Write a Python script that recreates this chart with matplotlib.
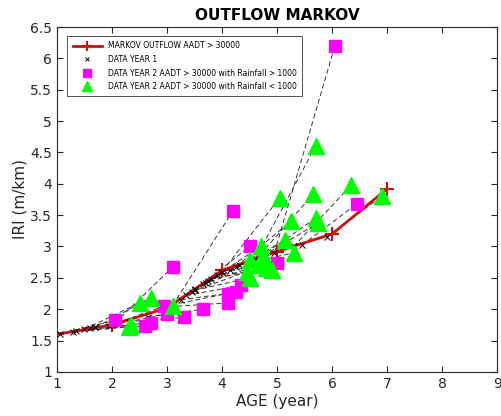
"""Markov outflow IRI prediction vs. observed data pairs."""

import matplotlib
matplotlib.use("Agg")
import matplotlib.pyplot as plt

# Markov prediction (age in years, IRI in m/km)
markov_age = [1, 2, 3, 4, 5, 6, 7]
markov_iri = [1.60, 1.75, 2.02, 2.62, 2.92, 3.20, 3.92]

# Data year 2, rainfall > 1000 (squares) and matching year 1 readings
sq_age2 = [6.05, 4.20, 3.10, 6.45, 4.50, 5.00, 2.05, 2.60, 2.70, 2.95, 3.00, 3.30, 3.65, 4.10, 4.10, 4.25, 4.35]
sq_iri2 = [6.20, 3.57, 2.67, 3.68, 3.00, 2.73, 1.82, 1.73, 1.78, 2.05, 1.92, 1.87, 2.00, 2.25, 2.10, 2.27, 2.38]
sq_age1 = [4.95, 3.10, 2.05, 5.45, 3.50, 4.00, 1.05, 1.60, 1.70, 1.95, 2.00, 2.30, 2.65, 3.10, 3.05, 3.25, 3.35]
sq_iri1 = [2.90, 2.06, 1.78, 3.02, 2.30, 2.60, 1.61, 1.70, 1.71, 1.74, 1.75, 1.80, 1.88, 2.07, 2.04, 2.15, 2.22]

# Data year 2, rainfall < 1000 (triangles) and matching year 1 readings
tr_age2 = [5.70, 6.35, 5.65, 5.05, 6.90, 5.25, 5.70, 5.75, 5.15, 5.30, 4.70, 4.75, 4.50, 4.45, 4.50,
           4.80, 4.90, 4.65, 2.50, 2.70, 3.10, 2.35, 2.30]
tr_iri2 = [4.60, 3.98, 3.83, 3.78, 3.80, 3.40, 3.45, 3.38, 3.10, 2.90, 3.00, 2.85, 2.78, 2.60, 2.50,
           2.65, 2.62, 2.70, 2.10, 2.18, 2.05, 1.75, 1.72]
tr_age1 = [4.60, 5.30, 4.60, 4.00, 5.90, 4.25, 4.70, 4.75, 4.15, 4.30, 3.70, 3.75, 3.50, 3.45, 3.50,
           3.80, 3.90, 3.65, 1.50, 1.70, 2.10, 1.35, 1.30]
tr_iri1 = [2.80, 3.00, 2.78, 2.60, 3.15, 2.68, 2.84, 2.85, 2.63, 2.70, 2.42, 2.45, 2.32, 2.28, 2.30,
           2.48, 2.55, 2.40, 1.68, 1.71, 1.77, 1.65, 1.64]

RED = (0.82, 0.05, 0.05)

fig = plt.figure(figsize=(5.02, 4.16), dpi=100)
ax = fig.add_axes([0.1135, 0.106, 0.877, 0.829])

# dashed links from year 1 to year 2
for a1, i1, a2, i2 in zip(sq_age1 + tr_age1, sq_iri1 + tr_iri1, sq_age2 + tr_age2, sq_iri2 + tr_iri2):
    ax.plot([a1, a2], [i1, i2], "--", color="#333333", lw=0.7, dashes=(5, 3), zorder=2)

ax.plot(markov_age, markov_iri, "-+", color=RED, lw=2, ms=10, mew=1.5, zorder=3,
        label="MARKOV OUTFLOW AADT > 30000")
ax.plot(sq_age1 + tr_age1, sq_iri1 + tr_iri1, "x", color="black", ms=5, mew=0.7, zorder=4,
        label="DATA YEAR 1")
ax.plot(sq_age2, sq_iri2, "s", color="#ff00ff", ms=9, mec="#ff00ff", zorder=5,
        label="DATA YEAR 2 AADT > 30000 with Rainfall > 1000")
ax.plot(tr_age2, tr_iri2, "^", color="#00ff00", ms=11, mec="#00ff00", zorder=5,
        label="DATA YEAR 2 AADT > 30000 with Rainfall < 1000")

ax.set_xlim(1, 9)
ax.set_ylim(1, 6.5)
ax.set_xticks(range(1, 10))
ax.set_yticks([1, 1.5, 2, 2.5, 3, 3.5, 4, 4.5, 5, 5.5, 6, 6.5])
ax.set_yticklabels(["1", "1.5", "2", "2.5", "3", "3.5", "4", "4.5", "5", "5.5", "6", "6.5"])
ax.tick_params(direction="in", top=True, right=True, labelsize=10, colors="#262626", length=4)
for spine in ax.spines.values():
    spine.set_color("#262626")
    spine.set_linewidth(0.8)

ax.set_xlabel("AGE (year)", fontsize=11, color="#262626", labelpad=2)
ax.set_ylabel("IRI (m/km)", fontsize=11, color="#262626", labelpad=2)
ax.set_title("OUTFLOW MARKOV", fontsize=11, fontweight="bold", pad=5)

leg = ax.legend(loc="upper left", fontsize=5.5, frameon=True, fancybox=False, markerscale=0.7,
                edgecolor="#262626", borderpad=0.7, handlelength=3.8, handletextpad=0.8,
                labelspacing=0.6, bbox_to_anchor=(0.015, 0.985))
leg.get_frame().set_linewidth(0.7)

fig.savefig("out.png", dpi=100)
